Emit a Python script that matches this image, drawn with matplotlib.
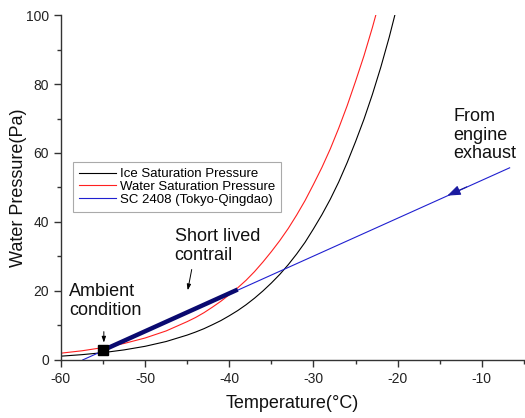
import matplotlib
matplotlib.use('agg')
import matplotlib.pyplot as plt
from matplotlib.ticker import MultipleLocator

plt.rcParams['font.family'] = ['Liberation Sans', 'DejaVu Sans']
plt.rcParams['axes.unicode_minus'] = False

# saturation curves
temp = [-60, -57.5, -55, -52.5, -50, -47.5,
        -45, -44, -43, -42, -41, -40, -39, -38, -37, -36,
        -35, -34, -33, -32, -31, -30, -29, -28, -27, -26,
        -25, -24, -23, -22, -21, -20]
ice_p = [1.08, 1.52, 2.10, 2.90, 3.94, 5.33,
         7.20, 8.08, 9.06, 10.2, 11.4, 12.8, 14.3, 16.0, 17.9, 20.0,
         22.3, 24.8, 27.6, 30.7, 34.1, 38.0, 42.1, 46.6, 51.6, 57.2,
         63.3, 69.8, 77.0, 84.9, 93.6, 103.2]
water_p = [1.95, 2.64, 3.57, 4.76, 6.35, 8.40,
           11.1, 12.3, 13.7, 15.3, 17.0, 18.9, 20.9, 23.1, 25.6, 28.4,
           31.4, 34.6, 38.1, 42.0, 46.2, 50.9, 55.8, 61.2, 67.2, 73.7,
           80.8, 88.2, 96.4, 105.3, 115.0, 125.6]

# mixing line of the flight
sc_t = [-57.4, -6.7]
sc_p = [0.0, 55.7]
contrail_t = [-55.0, -39.0]
contrail_p = [2.8, 20.4]
ambient = (-55.0, 2.8)

fig = plt.figure(figsize=(5.25, 4.18), dpi=100)
ax = fig.add_axes([0.116, 0.139, 0.882, 0.825])

ax.plot(temp, ice_p, color='black', lw=0.8, label='Ice Saturation Pressure')
ax.plot(temp, water_p, color='#ff2020', lw=0.8, label='Water Saturation Pressure')
ax.plot(sc_t, sc_p, color='#2020d0', lw=0.8, label='SC 2408 (Tokyo-Qingdao)')
ax.plot(contrail_t, contrail_p, color='#0a0a70', lw=3.2, solid_capstyle='butt')
ax.plot(*ambient, marker='s', color='black', ms=7)

# arrow on the mixing line
ax.annotate('', xy=(-14.4, 47.3), xytext=(-11.5, 50.5),
            arrowprops=dict(arrowstyle='-|>,head_length=0.8,head_width=0.3',
                            color='#1a1aa0', lw=0.8))

ax.text(-59.0, 17.1, 'Ambient\ncondition', fontsize=13, va='center', ha='left',
        linespacing=1.1, color='#111111')
ax.annotate('', xy=(-54.9, 4.2), xytext=(-54.9, 9.0),
            arrowprops=dict(arrowstyle='-|>,head_length=0.35,head_width=0.12',
                            color='black', lw=0.7))

ax.text(-46.5, 33.0, 'Short lived\ncontrail', fontsize=13, va='center', ha='left',
        linespacing=1.1, color='#111111')
ax.annotate('', xy=(-45.0, 19.4), xytext=(-44.4, 27.0),
            arrowprops=dict(arrowstyle='-|>,head_length=0.35,head_width=0.12',
                            color='black', lw=0.7))

ax.text(-13.4, 65.2, 'From\nengine\nexhaust', fontsize=13, va='center', ha='left',
        linespacing=1.1, color='#111111')

ax.set_xlim(-60, -5)
ax.set_ylim(0, 100)
ax.xaxis.set_major_locator(MultipleLocator(10))
ax.xaxis.set_minor_locator(MultipleLocator(5))
ax.yaxis.set_major_locator(MultipleLocator(20))
ax.yaxis.set_minor_locator(MultipleLocator(10))
ax.spines['top'].set_visible(False)
ax.spines['right'].set_visible(False)
for s in ('left', 'bottom'):
    ax.spines[s].set_color('#333333')
    ax.spines[s].set_linewidth(1.0)
ax.tick_params(which='major', length=5, width=1, color='#333333',
               labelsize=10, labelcolor='#222222')
ax.tick_params(which='minor', length=3, width=1, color='#333333')

ax.set_xlabel('Temperature(°C)', fontsize=13, color='#111111', labelpad=7)
ax.set_ylabel('Water Pressure(Pa)', fontsize=13, color='#111111', labelpad=-1)

leg = ax.legend(loc='upper left', bbox_to_anchor=(0.026, 0.574), fontsize=9.5,
                handlelength=2.8, handletextpad=0.3, fancybox=False,
                framealpha=1, edgecolor='#aaaaaa', borderpad=0.45,
                labelspacing=0.05, borderaxespad=0)
leg.get_frame().set_linewidth(0.8)

fig.savefig('out.png', dpi=100)
